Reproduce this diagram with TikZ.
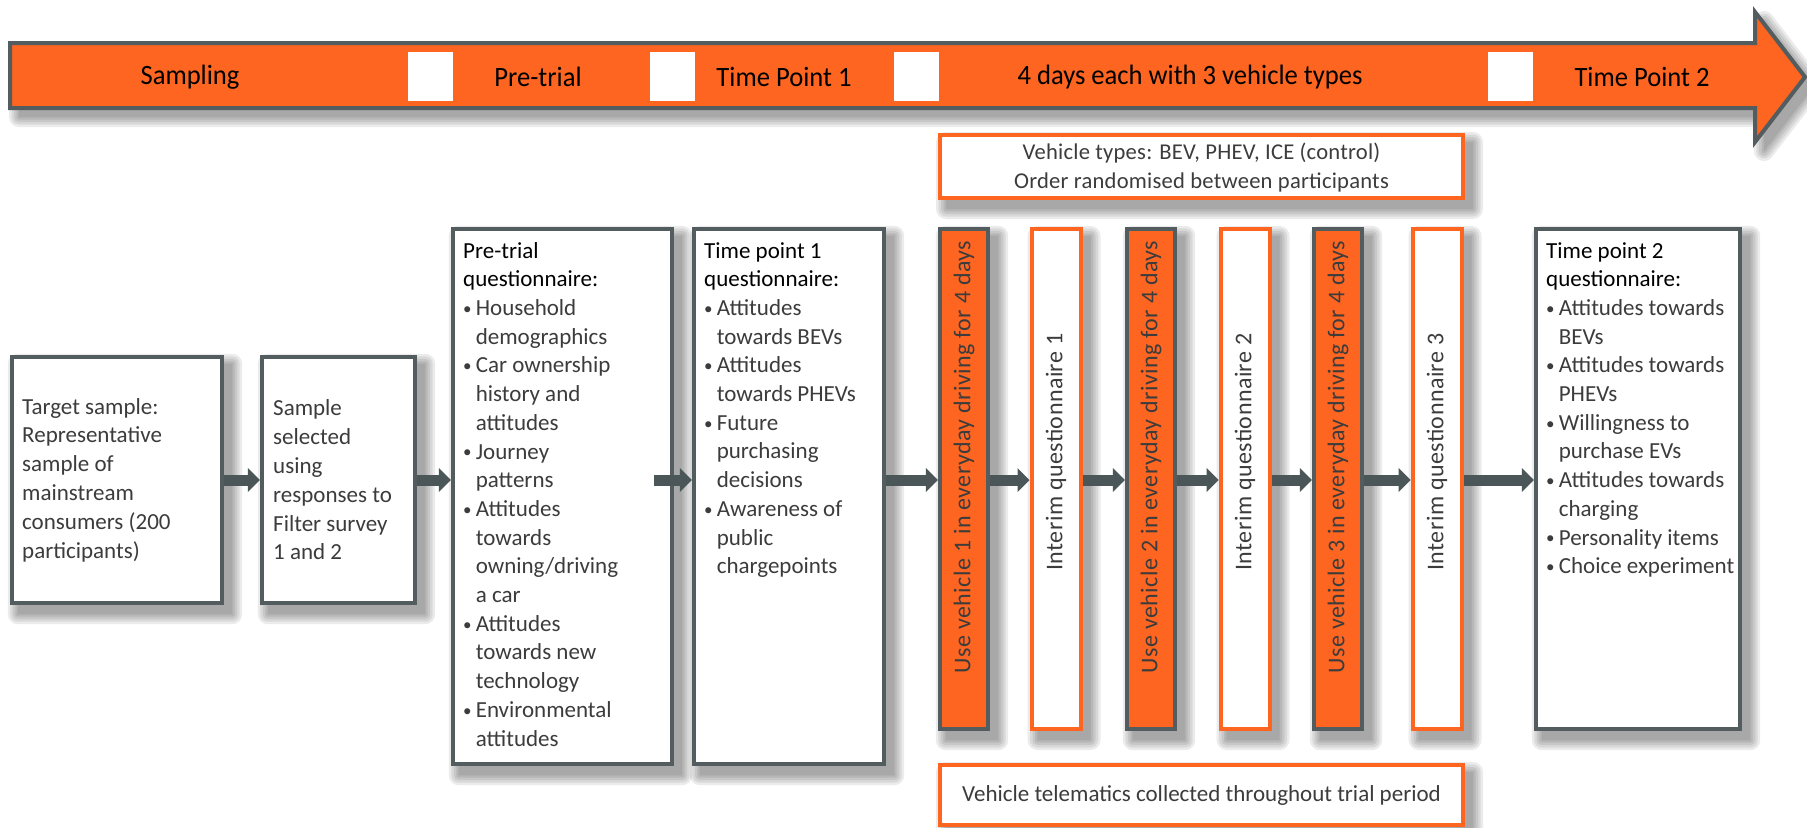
\documentclass[tikz,border=0pt]{standalone}
\usepackage{fontspec}
\setmainfont{Carlito}
\newfontfamily\barfont[FakeStretch=0.95]{Carlito}
\newfontfamily\spacedfont[LetterSpace=1.8]{Carlito}
\newfontfamily\lightspaced[LetterSpace=1]{Carlito}
\usetikzlibrary{arrows.meta,calc}

\pgfdeclarelayer{canvas}
\pgfdeclarelayer{shade}
\pgfsetlayers{canvas,shade,main}

\definecolor{orng}{HTML}{FD6521}
\definecolor{slate}{HTML}{535D60}
\definecolor{arrowgray}{HTML}{4B5659}
\definecolor{txtgray}{HTML}{3C3C3C}

% soft drop shadow behind a rectangular node
\newcommand\boxshade[1]{%
  \foreach \w in {0.2,2.5,5,7.5,10}{%
    \begin{scope}[transparency group, opacity=0.08]
      \filldraw[black, line width=\w pt, line join=round]
        ([shift={(8,9)}]#1.north west) rectangle ([shift={(8,9)}]#1.south east);
    \end{scope}}}

% bullet and hanging indent for the questionnaire lists
\newcommand\bl{\makebox[6.3pt][l]{\raisebox{0.6pt}{\fontsize{8.5}{8.5}\selectfont\textbullet}}}
\newcommand\ind{\hspace*{6.3pt}}
\newcommand\ttl[1]{\textcolor{black}{#1}}

\tikzset{
  gbox/.style={draw=slate, line width=2.2pt, fill=white, inner sep=0pt},
  obox/.style={draw=orng, line width=2pt, fill=white, inner sep=0pt},
  vbox/.style={draw=slate, line width=2.2pt, fill=orng, inner sep=0pt,
               minimum width=24pt, minimum height=250pt},
  ibox/.style={obox, minimum width=24.5pt, minimum height=250pt},
  gap/.style={fill=white, inner sep=0pt, minimum width=22.5pt, minimum height=24.5pt},
  barlabel/.style={font=\barfont\fontsize{14}{16}\selectfont, text=black, inner sep=0pt},
  bodytext/.style={font=\fontsize{11.5}{14.4}\selectfont, text=txtgray, align=left, inner sep=0pt},
  listtext/.style={font=\fontsize{11.5}{14.35}\selectfont, text=txtgray, align=left, inner sep=0pt},
  vtext/.style={font=\spacedfont\fontsize{12}{14}\selectfont, text=txtgray, rotate=90, inner sep=0pt},
  flow/.style={arrowgray, line width=5.5pt, -{Triangle[length=6pt,width=12pt,line width=0pt]}},
}

\begin{document}
\begin{tikzpicture}[x=0.5pt, y=-0.5pt]
\useasboundingbox (0,0) rectangle (1807,827);
\begin{pgfonlayer}{canvas}
  \fill[white] (0,0) rectangle (1807,827);
\end{pgfonlayer}

% ---- timeline arrow ----
\begin{pgfonlayer}{shade}
  \foreach \w in {0.2,2.5,5,7.5,10}{%
    \begin{scope}[transparency group, opacity=0.08, shift={(9,9)}]
      \filldraw[black, line width=\w pt, line join=round]
        (10,43) -- (1755,43) -- (1755,12) -- (1805,77) -- (1755,142) -- (1755,108) -- (10,108) -- cycle;
    \end{scope}}
\end{pgfonlayer}
\filldraw[fill=orng, draw=slate, line width=2pt, line join=miter]
  (10,43) -- (1755,43) -- (1755,12) -- (1805,77) -- (1755,142) -- (1755,108) -- (10,108) -- cycle;

\node[gap] (g1) at (430.5,76.5) {};
\node[gap] (g2) at (672.5,76.5) {};
\node[gap] (g3) at (916.5,76.5) {};
\node[gap] (g4) at (1510.5,76.5) {};

\node[barlabel] (lsamp) at (190,77) {Sampling};
\node[barlabel] (lpre)  at (538,77) {Pre-trial};
\node[barlabel] (ltp1)  at (784,77) {Time Point 1};
\node[barlabel] (ldays) at (1190,77) {4 days each with 3 vehicle types};
\node[barlabel] (ltp2)  at (1642,77) {Time Point 2};

% ---- boxes ----
\node[gbox, minimum width=105pt, minimum height=123pt] (A) at (117,480) {};
\node[gbox, minimum width=76.5pt, minimum height=123pt] (B) at (338.5,480) {};
\node[gbox, minimum width=109.5pt, minimum height=267.5pt] (C) at (562.5,496.5) {};
\node[gbox, minimum width=95pt, minimum height=267.5pt] (D) at (789,496.5) {};
\node[vbox] (V1) at (964,479) {};
\node[ibox] (I1) at (1056,479) {};
\node[vbox] (V2) at (1151,479) {};
\node[ibox] (I2) at (1245,479) {};
\node[vbox] (V3) at (1338,479) {};
\node[ibox] (I3) at (1437,479) {};
\node[gbox, minimum width=102pt, minimum height=250pt] (E) at (1638,479) {};
\node[obox, minimum width=261.5pt, minimum height=31.5pt] (T) at (1201.5,166.5) {};
\node[obox, minimum width=261.5pt, minimum height=30pt] (M) at (1201.5,795) {};

\begin{pgfonlayer}{shade}
  \foreach \n in {A,B,C,D,V1,I1,V2,I2,V3,I3,E,T,M}{\boxshade{\n}}
\end{pgfonlayer}

% ---- texts ----
\node[bodytext, anchor=west] (At) at ([xshift=6pt]A.west) {Target sample:\\Representative\\sample of\\mainstream\\consumers (200\\participants)};
\node[bodytext, anchor=west] (Bt) at ([xshift=6.5pt]B.west) {Sample\\selected\\using\\responses to\\Filter survey\\1 and 2};

\node[listtext, anchor=north west] (Ct) at ([shift={(12,15)}]C.north west) {%
\ttl{Pre-trial}\\\ttl{questionnaire:}\\
\bl Household\\\ind demographics\\
\bl Car ownership\\\ind history and\\\ind attitudes\\
\bl Journey\\\ind patterns\\
\bl Attitudes\\\ind towards\\\ind owning/driving\\\ind a car\\
\bl Attitudes\\\ind towards new\\\ind technology\\
\bl Environmental\\\ind attitudes};

\node[listtext, anchor=north west] (Dt) at ([shift={(12,15)}]D.north west) {%
\ttl{Time point 1}\\\ttl{questionnaire:}\\
\bl Attitudes\\\ind towards BEVs\\
\bl Attitudes\\\ind towards PHEVs\\
\bl Future\\\ind purchasing\\\ind decisions\\
\bl Awareness of\\\ind public\\\ind chargepoints};

\node[listtext, anchor=north west] (Et) at ([shift={(12,15)}]E.north west) {%
\ttl{Time point 2}\\\ttl{questionnaire:}\\
\bl Attitudes towards\\\ind BEVs\\
\bl Attitudes towards\\\ind PHEVs\\
\bl Willingness to\\\ind purchase EVs\\
\bl Attitudes towards\\\ind charging\\
\bl Personality items\\
\bl Choice experiment};

\node[vtext] (V1t) at (964,457) {Use vehicle 1 in everyday driving for 4 days};
\node[vtext] (I1t) at (1056,452) {Interim questionnaire 1};
\node[vtext] (V2t) at (1151,457) {Use vehicle 2 in everyday driving for 4 days};
\node[vtext] (I2t) at (1245,452) {Interim questionnaire 2};
\node[vtext] (V3t) at (1338,457) {Use vehicle 3 in everyday driving for 4 days};
\node[vtext] (I3t) at (1437,452) {Interim questionnaire 3};

\node[bodytext, align=center, font=\lightspaced\fontsize{11.3}{14.2}\selectfont] (Tt) at ([yshift=-0.5pt]T.center) {Vehicle types: BEV, PHEV, ICE (control)\\Order randomised between participants};
\node[bodytext, align=center] (Mt) at (M.center) {Vehicle telematics collected throughout trial period};

% ---- connectors ----
\coordinate (row) at (0,480);
\draw[flow] (A.east |- row) -- (B.west |- row);
\draw[flow] (B.east |- row) -- (C.west |- row);
\draw[flow] ($(C.east |- row)+(-20,0)$) -- (D.west |- row);
\draw[flow] (D.east |- row) -- (V1.west |- row);
\draw[flow] (V1.east |- row) -- (I1.west |- row);
\draw[flow] (I1.east |- row) -- (V2.west |- row);
\draw[flow] (V2.east |- row) -- (I2.west |- row);
\draw[flow] (I2.east |- row) -- (V3.west |- row);
\draw[flow] (V3.east |- row) -- (I3.west |- row);
\draw[flow] (I3.east |- row) -- (E.west |- row);
\end{tikzpicture}
\end{document}
